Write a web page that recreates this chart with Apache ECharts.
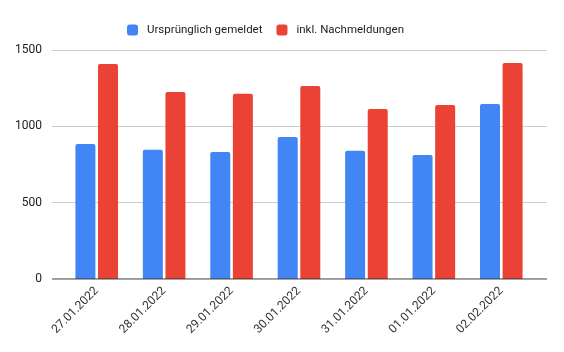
<!DOCTYPE html>
<html>
<head>
<meta charset="UTF-8">
<title>Meldungen</title>
<script src="https://cdn.jsdelivr.net/npm/echarts@6/dist/echarts.min.js"></script>
<style>
  html, body { margin: 0; padding: 0; background: #fff; }
  #main { width: 564px; height: 352px; }
</style>
</head>
<body>
<div id="main"></div>
<script type="text/javascript">
// Daten
var tage = ['27.01.2022', '28.01.2022', '29.01.2022', '30.01.2022', '31.01.2022', '01.01.2022', '02.02.2022'];
var gemeldet = [884, 847, 832, 930, 840, 812, 1146];
var nachmeldungen = [1408, 1225, 1214, 1264, 1113, 1140, 1415];
var yTicks = [0, 500, 1000, 1500];

(function () {
  var myChart = echarts.init(document.getElementById('main'));
  var font = 'Roboto, Arial, sans-serif';
  var option = {
    animation: false,
    textStyle: { fontFamily: font },
    legend: {
      top: 19,
      left: 122,
      itemWidth: 11,
      itemHeight: 11,
      itemGap: 14,
      icon: 'roundRect',
      textStyle: { fontSize: 11.5, color: '#222', fontFamily: font, padding: [0, 0, 0, 4] },
      data: ['Ursprünglich gemeldet', 'inkl. Nachmeldungen']
    },
    // grid 0: Gitterlinien + y-Beschriftung, grid 1: Balken
    grid: [
      { left: 52, right: 17, top: 50, bottom: 73 },
      { left: 63, right: 29, top: 50, bottom: 73 }
    ],
    xAxis: [
      { gridIndex: 0, type: 'value', show: false, min: 0, max: 1 },
      {
        gridIndex: 1,
        type: 'category',
        data: tage,
        axisLine: { show: false },
        axisTick: { show: false },
        axisLabel: { rotate: 45, fontSize: 12, color: '#333', margin: 10, fontFamily: font }
      }
    ],
    yAxis: [
      {
        gridIndex: 0,
        type: 'value',
        min: yTicks[0],
        max: yTicks[yTicks.length - 1],
        interval: 500,
        axisLine: { show: false },
        axisTick: { show: false },
        axisLabel: {
          fontSize: 12, color: '#222', margin: 10, fontFamily: font,
          formatter: function (v) { return String(v); }
        },
        splitLine: { lineStyle: { color: '#cccccc', width: 1 } }
      },
      {
        gridIndex: 1,
        type: 'value',
        min: yTicks[0],
        max: yTicks[yTicks.length - 1],
        show: false
      }
    ],
    series: [
      {
        name: 'Ursprünglich gemeldet',
        type: 'bar',
        xAxisIndex: 1,
        yAxisIndex: 1,
        data: gemeldet,
        barWidth: 20,
        barGap: '13%',
        itemStyle: { color: '#4285f4', borderRadius: [2, 2, 0, 0] }
      },
      {
        name: 'inkl. Nachmeldungen',
        type: 'bar',
        xAxisIndex: 1,
        yAxisIndex: 1,
        data: nachmeldungen,
        barWidth: 20,
        itemStyle: { color: '#ea4335', borderRadius: [2, 2, 0, 0] }
      },
      {
        // Nulllinie
        type: 'line',
        xAxisIndex: 0,
        yAxisIndex: 0,
        data: [[0, 0], [1, 0]],
        symbol: 'none',
        silent: true,
        lineStyle: { color: '#333333', width: 1 },
        z: 5
      }
    ]
  };
  myChart.setOption(option);
})();
</script>
</body>
</html>
